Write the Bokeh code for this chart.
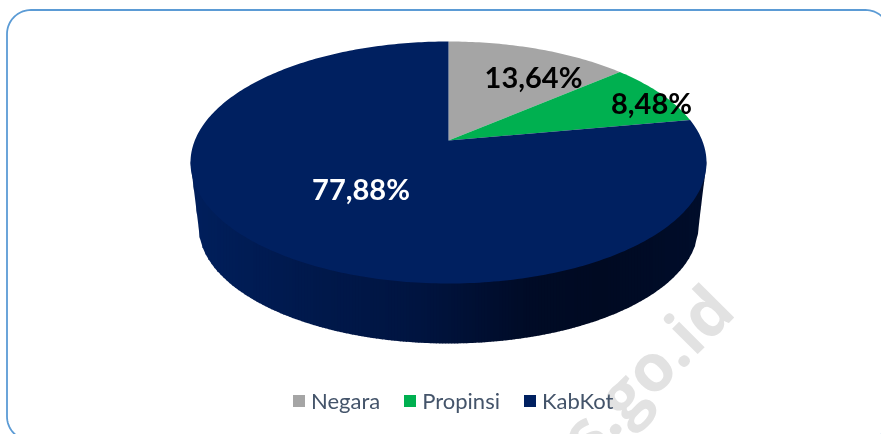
import math
from bokeh.plotting import figure
from bokeh.models import Legend, LegendItem, Range1d
from bokeh.embed import file_html
from bokeh.resources import INLINE
from bokeh.core.properties import value

categories = ["Negara", "Propinsi", "KabKot"]
shares = [13.64, 8.48, 77.88]
share_labels = ["13,64%", "8,48%", "77,88%"]
slice_colors = ["#A5A5A5", "#00B050", "#002060"]
label_colors = ["#000000", "#000000", "#FFFFFF"]
side_stops = [(190, "#001F5C"), (300, "#00194D"), (420, "#001440"), (530, "#000B26"), (600, "#000A22"), (706, "#000D2B")]

W, H = 881, 434
CX, CY = 448, 140
K, A, B = 0.1818, 117.0, 253.7
TOP_CY, TOP_RX, TOP_RY = 162.0, 258.0, 121.0
BOT_CY, BOT_RX, BOT_RY = 226.0, 250.0, 117.0


def project(frac):
    t = 2 * math.pi * frac
    X, Y = math.sin(t), math.cos(t)
    w = 1 + K * Y
    return CX + B * X / w, CY - A * Y / w


def top_lower(x):
    return TOP_CY + TOP_RY * math.sqrt(max(0, 1 - ((x - CX) / TOP_RX) ** 2))


def side_lower(x):
    u = (x - CX) / BOT_RX
    if abs(u) < 1:
        return BOT_CY + BOT_RY * math.sqrt(1 - u * u)
    edge = abs(x - CX) - BOT_RX
    return BOT_CY - (BOT_CY - TOP_CY) * edge / (TOP_RX - BOT_RX)


def mix(c1, c2, f):
    a = [int(c1[i:i + 2], 16) for i in (1, 3, 5)]
    b = [int(c2[i:i + 2], 16) for i in (1, 3, 5)]
    return "#%02x%02x%02x" % tuple(round(p + (q - p) * f) for p, q in zip(a, b))


def side_color(x):
    for (x0, c0), (x1, c1) in zip(side_stops, side_stops[1:]):
        if x <= x1:
            return mix(c0, c1, max(0, (x - x0) / (x1 - x0)))
    return side_stops[-1][1]


p = figure(width=W, height=H, output_backend="svg", toolbar_location=None,
           x_range=Range1d(0, W), y_range=Range1d(H, 0),
           min_border=0, outline_line_color=None, background_fill_color="white")
p.axis.visible = False
p.grid.visible = False
p.styles = {"position": "fixed", "left": "0px", "top": "0px"}

# frame (runs past the right and bottom of the picture)
fx0, fy0, fx1, fy1, r = 6.5, 9.5, 889, 440, 24
fxs, fys = [], []
for (ccx, ccy, a0) in [(fx0 + r, fy0 + r, 180), (fx1 - r, fy0 + r, 270), (fx1 - r, fy1 - r, 0), (fx0 + r, fy1 - r, 90)]:
    for d in range(0, 91, 5):
        ang = math.radians(a0 + d)
        fxs.append(ccx + r * math.cos(ang))
        fys.append(ccy + r * math.sin(ang))
fxs.append(fxs[0]); fys.append(fys[0])
p.patch(fxs, fys, fill_color="white", line_color="#5B9BD5", line_width=1.8)

# watermark
p.text([719], [295], text=["s.go.id"], angle=math.radians(45), text_align="right",
       text_baseline="middle", text_color="#E2E2E2", text_font=value("Open Sans"),
       text_font_style="bold", text_font_size="66px")

# side wall
step = 3
x = 190.0
while x < 706:
    x2 = min(x + step, 706)
    c = side_color((x + x2) / 2)
    x3 = min(x2 + 0.6, 706)
    p.patch([x, x3, x3, x], [top_lower(x) - 2, top_lower(x3) - 2, side_lower(x3), side_lower(x)],
            fill_color=c, line_color=None)
    x = x2

# top face
renderers = []
cum = 0.0
total = sum(shares)
for s, col in zip(shares, slice_colors):
    n = max(3, int(s * 4))
    fr = [(cum + s * i / n) / total for i in range(n + 1)]
    pts = [project(f) for f in fr]
    renderers.append(p.patch([CX] + [q[0] for q in pts], [CY] + [q[1] for q in pts],
                             fill_color=col, line_color=None))
    cum += s

# labels
label_pos = [(533, 75.5), (651, 101.5), (360.5, 188)]
for (lx, ly), t, c in zip(label_pos, share_labels, label_colors):
    p.text([lx], [ly], text=[t], text_align="center", text_baseline="middle", text_color=c,
           text_font=value("Lato"), text_font_style="bold", text_font_size="29px")

legend = Legend(items=[LegendItem(label=c, renderers=[r_]) for c, r_ in zip(categories, renderers)],
                orientation="horizontal", location=(291, 20), glyph_width=15, glyph_height=15,
                label_standoff=5, spacing=22, padding=0, margin=0, border_line_color=None,
                background_fill_alpha=0, label_text_color="#44546A",
                label_text_font="Lato", label_text_font_size="22px")
p.add_layout(legend, "center")

open("out.html", "w").write(file_html(p, INLINE))
